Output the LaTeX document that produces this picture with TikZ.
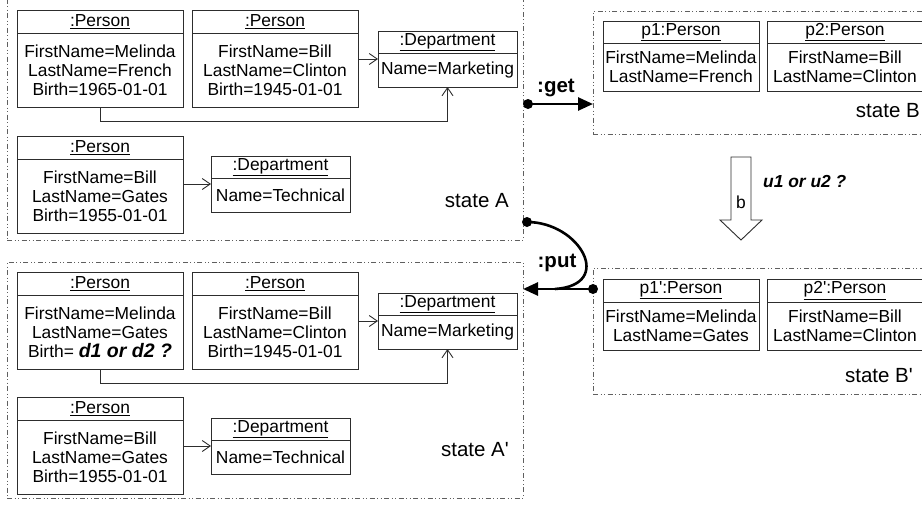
\documentclass[tikz,border=0pt]{standalone}
\usepackage{fontspec}
\setmainfont{Liberation Sans}[Ligatures=TeXOff]
\usetikzlibrary{arrows.meta,positioning,calc}
\definecolor{framegray}{RGB}{95,95,95}
\definecolor{linegray}{RGB}{45,45,45}
\newcommand{\objfont}{\fontsize{17.4}{19}\selectfont}
\newcommand{\lblfont}{\fontsize{20.5}{24}\selectfont}
\newcommand{\askfont}{\fontsize{19.5}{19}\selectfont\bfseries\itshape}

\begin{document}
\begin{tikzpicture}[x=1pt, y=-1pt,
  frame/.style={draw=framegray, line width=0.8pt, inner sep=0pt, outer sep=0pt,
      dash pattern=on 5pt off 2.5pt on 1pt off 2.5pt on 1pt off 2.5pt},
  objhead/.style={draw=linegray, line width=0.9pt, inner sep=0pt, outer sep=0pt, font=\objfont},
  objbody/.style={draw=linegray, line width=0.9pt, inner sep=0pt, outer sep=0pt, align=center, font=\objfont},
  person/.style={minimum width=166pt},
  dept/.style={minimum width=139pt},
  bperson/.style={minimum width=156pt},
  assoc/.style={draw=linegray, line width=0.9pt, -{Straight Barb[length=8pt,width=11pt]}},
  opline/.style={line width=2.6pt, line cap=round},
  oparrow/.style={line width=2.6pt, -{Triangle[length=15pt,width=13pt]}},
  statelbl/.style={font=\lblfont, inner sep=0pt},
  oplbl/.style={font=\lblfont\bfseries, inner sep=0pt}
]
\useasboundingbox (0,0) rectangle (922,504);
\clip (0,0) rectangle (922,504);

% state A
\node[frame, minimum width=516pt, minimum height=250pt] (stA) at (265,115) {};
\node[objhead, person, minimum height=23pt] (p1h) at (100,21.5) {\underline{:Person}};
\node[objbody, person, minimum height=74pt, below=0pt of p1h] (p1b) {FirstName=Melinda\\LastName=French\\Birth=1965-01-01};
\node[objhead, person, minimum height=23pt] (p2h) at (275,21.5) {\underline{:Person}};
\node[objbody, person, minimum height=74pt, below=0pt of p2h] (p2b) {FirstName=Bill\\LastName=Clinton\\Birth=1945-01-01};
\node[objhead, dept, minimum height=22pt] (dmh) at (447.5,42) {\underline{:Department}};
\node[objbody, dept, minimum height=34pt, below=0pt of dmh] (dmb) {Name=Marketing};
\node[objhead, person, minimum height=23pt] (p3h) at (100,147.5) {\underline{:Person}};
\node[objbody, person, minimum height=74pt, below=0pt of p3h] (p3b) {FirstName=Bill\\LastName=Gates\\Birth=1955-01-01};
\node[objhead, dept, minimum height=22pt] (dth) at (280.5,167) {\underline{:Department}};
\node[objbody, dept, minimum height=34pt, below=0pt of dth] (dtb) {Name=Technical};
\node[statelbl, anchor=east] (lblA) at (509,201) {state A};
\coordinate (dmc) at ($(dmh.north)!0.5!(dmb.south)$);
\coordinate (dtc) at ($(dth.north)!0.5!(dtb.south)$);
\draw[assoc] (p2b.east |- dmc) -- (dmb.west |- dmc);
\draw[assoc] (p1b.south) -- ++(0,14) -| (dmb.south);
\draw[assoc] (p3b.east |- dtc) -- (dtb.west |- dtc);

% state A'
\node[frame, minimum width=516pt, minimum height=236pt] (stAp) at (265,380) {};
\node[objhead, person, minimum height=23pt] (r1h) at (100,283.5) {\underline{:Person}};
\node[objbody, person, minimum height=74pt, below=0pt of r1h] (r1b) {FirstName=Melinda\\LastName=Gates\\Birth= {\askfont d1 or d2 ?}};
\node[objhead, person, minimum height=23pt] (r2h) at (275,283.5) {\underline{:Person}};
\node[objbody, person, minimum height=74pt, below=0pt of r2h] (r2b) {FirstName=Bill\\LastName=Clinton\\Birth=1945-01-01};
\node[objhead, dept, minimum height=22pt] (emh) at (447.5,304) {\underline{:Department}};
\node[objbody, dept, minimum height=34pt, below=0pt of emh] (emb) {Name=Marketing};
\node[objhead, person, minimum height=23pt] (r3h) at (100,408.5) {\underline{:Person}};
\node[objbody, person, minimum height=74pt, below=0pt of r3h] (r3b) {FirstName=Bill\\LastName=Gates\\Birth=1955-01-01};
\node[objhead, dept, minimum height=22pt] (eth) at (280.5,429) {\underline{:Department}};
\node[objbody, dept, minimum height=34pt, below=0pt of eth] (etb) {Name=Technical};
\node[statelbl, anchor=east] (lblAp) at (509,450) {state A'};
\coordinate (emc) at ($(emh.north)!0.5!(emb.south)$);
\coordinate (etc) at ($(eth.north)!0.5!(etb.south)$);
\draw[assoc] (r2b.east |- emc) -- (emb.west |- emc);
\draw[assoc] (r1b.south) -- ++(0,14) -| (emb.south);
\draw[assoc] (r3b.east |- etc) -- (etb.west |- etc);

% state B
\node[frame, minimum width=342pt, minimum height=123pt] (stB) at (764,72.5) {};
\node[objhead, bperson, minimum height=22pt] (q1h) at (681,32) {\underline{p1:Person}};
\node[objbody, bperson, minimum height=48pt, below=0pt of q1h] (q1b) {FirstName=Melinda\\LastName=French};
\node[objhead, bperson, minimum height=22pt] (q2h) at (845,32) {\underline{p2:Person}};
\node[objbody, bperson, minimum height=48pt, below=0pt of q2h] (q2b) {FirstName=Bill\\LastName=Clinton};
\node[statelbl, anchor=east] (lblB) at (920,111) {state B};

% state B'
\node[frame, minimum width=342pt, minimum height=126pt] (stBp) at (764,331) {};
\node[objhead, bperson, minimum height=23pt] (s1h) at (681,290.5) {\underline{p1':Person}};
\node[objbody, bperson, minimum height=48pt, below=0pt of s1h] (s1b) {FirstName=Melinda\\LastName=Gates};
\node[objhead, bperson, minimum height=23pt] (s2h) at (845,290.5) {\underline{p2':Person}};
\node[objbody, bperson, minimum height=48pt, below=0pt of s2h] (s2b) {FirstName=Bill\\LastName=Clinton};
\node[statelbl, anchor=east] (lblBp) at (913,376) {state B'};

% get
\coordinate (getS) at (528,104);
\fill (getS) circle (5pt);
\draw[oparrow] (getS) -- (getS -| stB.west);
\node[oplbl] (getl) at (556,88) {:get};

% put
\coordinate (putA) at (527,222);
\coordinate (putB) at (593,289);
\coordinate (putJ) at (555,289);
\fill (putA) circle (5pt);
\fill (putB) circle (5pt);
\draw[opline] (putA) .. controls (580,222) and (615,285) .. (putJ);
\draw[oparrow] (putB) -- (putB -| stAp.east);
\node[oplbl] (putl) at (557,263) {:put};

% b
\draw[linegray, line width=0.9pt, fill=white] (731,157) -- (751,157) -- (751,220) -- (762,220)
  -- (741,240) -- (720,220) -- (731,220) -- cycle;
\node[font=\objfont, inner sep=0pt] (bl) at (741,202) {b};
\node[font=\objfont\bfseries\itshape, inner sep=0pt, anchor=west] (ul) at (763,182) {u1 or u2 ?};
\end{tikzpicture}
\end{document}
